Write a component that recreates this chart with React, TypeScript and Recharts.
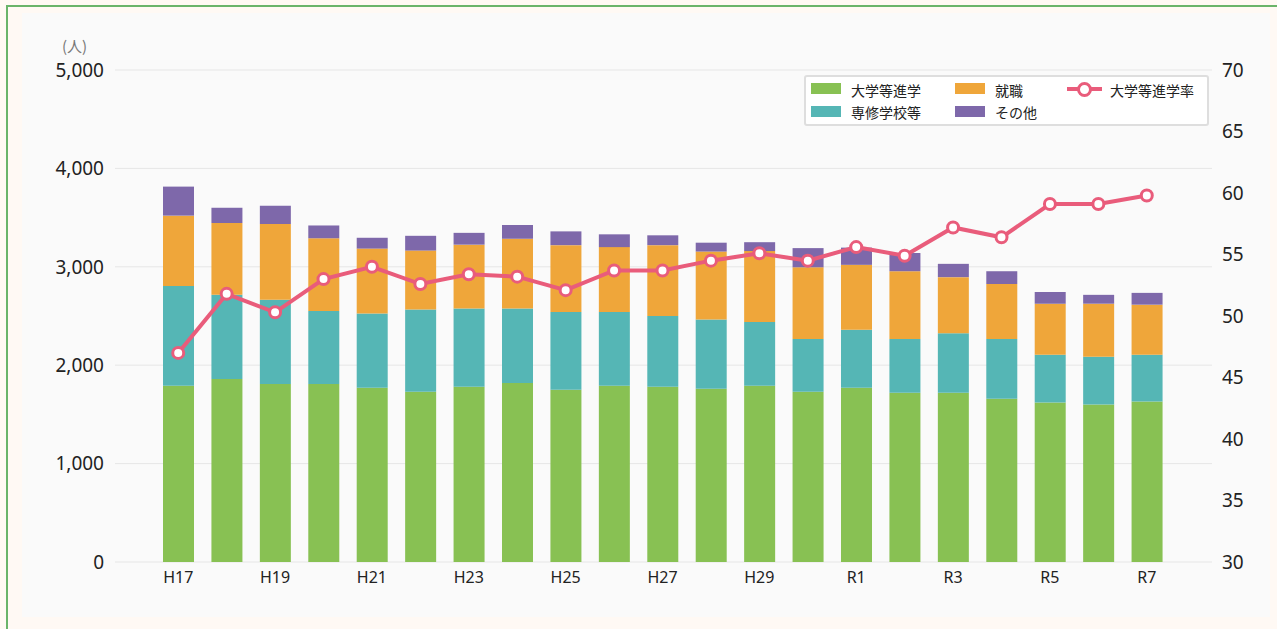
import {
  ComposedChart,
  Bar,
  Line,
  XAxis,
  YAxis,
  CartesianGrid,
} from 'recharts';

const years = [
  'H17', 'H18', 'H19', 'H20', 'H21', 'H22', 'H23', 'H24', 'H25', 'H26', 'H27',
  'H28', 'H29', 'H30', 'R1', 'R2', 'R3', 'R4', 'R5', 'R6', 'R7',
];
const daigaku = [1790, 1860, 1810, 1810, 1770, 1730, 1780, 1820, 1750, 1790, 1780, 1760, 1790, 1730, 1770, 1720, 1720, 1660, 1620, 1600, 1630];
const senshu = [1015, 855, 855, 740, 755, 835, 795, 755, 790, 750, 720, 705, 650, 535, 590, 545, 605, 605, 485, 485, 475];
const shushoku = [715, 730, 770, 740, 660, 600, 650, 710, 680, 660, 720, 690, 720, 730, 660, 690, 570, 560, 520, 540, 510];
const sonota = [295, 155, 185, 130, 110, 150, 120, 140, 140, 130, 100, 90, 90, 195, 175, 185, 135, 130, 120, 90, 120];
const rate = [47.0, 51.8, 50.3, 53.0, 54.0, 52.6, 53.4, 53.2, 52.1, 53.7, 53.7, 54.5, 55.1, 54.5, 55.6, 54.9, 57.2, 56.4, 59.1, 59.1, 59.8];

const leftTicks = [0, 1000, 2000, 3000, 4000, 5000];
const rightTicks = [30, 35, 40, 45, 50, 55, 60, 65, 70];

const colors = {
  daigaku: '#88c153',
  senshu: '#55b6b5',
  shushoku: '#efa63a',
  sonota: '#7e68aa',
  rate: '#e95c7b',
};

const data = years.map((y, i) => ({
  year: y,
  daigaku: daigaku[i],
  senshu: senshu[i],
  shushoku: shushoku[i],
  sonota: sonota[i],
  rate: rate[i],
}));

const font = '"Noto Sans", "Noto Sans CJK JP", sans-serif';

function Swatch({ color, left, top }: { color: string; left: number; top: number }) {
  return (
    <div style={{ position: 'absolute', left, top, width: 30, height: 11, background: color }} />
  );
}

function Label({ text, left, top }: { text: string; left: number; top: number }) {
  return (
    <div style={{ position: 'absolute', left, top, fontSize: 14, lineHeight: '16px', color: '#222', whiteSpace: 'nowrap' }}>
      {text}
    </div>
  );
}

// legend drawn as an overlay so it doesn't push the plot down
function ChartLegend() {
  return (
    <div
      style={{
        position: 'absolute',
        left: 782,
        top: 62,
        width: 401,
        height: 47,
        background: '#fff',
        border: '2px solid #dedede',
        borderRadius: 3,
        fontFamily: '"Noto Sans CJK JP", sans-serif',
      }}
    >
      <Swatch color={colors.daigaku} left={5} top={6} />
      <Label text="大学等進学" left={45} top={5} />
      <Swatch color={colors.shushoku} left={149} top={6} />
      <Label text="就職" left={189} top={5} />
      <div style={{ position: 'absolute', left: 261, top: 10, width: 35, height: 4, background: colors.rate }} />
      <div
        style={{
          position: 'absolute', left: 271, top: 5, width: 9, height: 9,
          borderRadius: '50%', background: '#fff', border: `3px solid ${colors.rate}`,
        }}
      />
      <Label text="大学等進学率" left={304} top={5} />
      <Swatch color={colors.senshu} left={5} top={29} />
      <Label text="専修学校等" left={45} top={27} />
      <Swatch color={colors.sonota} left={149} top={29} />
      <Label text="その他" left={189} top={27} />
    </div>
  );
}

export default function App() {
  return (
    <div style={{ position: 'fixed', left: 0, top: 0, width: 1277, height: 629, background: '#fff9f4', overflow: 'hidden' }}>
      <div
        style={{
          position: 'absolute', left: 6, top: 5, width: 1300, height: 700,
          borderTop: '2px solid #6ab46a', borderLeft: '2px solid #6ab46a',
        }}
      />
      <div style={{ position: 'absolute', left: 22, top: 13, width: 1248, height: 604, background: '#fafafa' }}>
        <div style={{ position: 'absolute', left: 40, top: 22, fontSize: 15, color: '#777', fontFamily: '"Noto Sans CJK JP", sans-serif' }}>
          (人)
        </div>
        <ComposedChart
          width={1248}
          height={604}
          data={data}
          margin={{ top: 57, right: 18, bottom: 25, left: 23 }}
          style={{ fontFamily: font }}
        >
          <CartesianGrid yAxisId="left" vertical={false} stroke="#e6e6e6" strokeWidth={1} />
          <XAxis
            dataKey="year"
            interval={1}
            padding={{ left: 39, right: 41 }}
            axisLine={false}
            tickLine={false}
            tickSize={0}
            tickMargin={10}
            height={30}
            tick={{ fontSize: 16, fill: '#222' }}
          />
          <YAxis
            yAxisId="left"
            domain={[0, 5000]}
            ticks={leftTicks}
            tickFormatter={(v: number) => v.toLocaleString('en-US')}
            axisLine={false}
            tickLine={false}
            tickSize={0}
            tickMargin={11}
            width={70}
            tick={{ fontSize: 19, fill: '#222' }}
          />
          <YAxis
            yAxisId="right"
            orientation="right"
            domain={[30, 70]}
            ticks={rightTicks}
            axisLine={false}
            tickLine={false}
            tickSize={0}
            tickMargin={10}
            width={40}
            tick={{ fontSize: 19, fill: '#222', textAnchor: 'start' }}
          />
          <Bar yAxisId="left" dataKey="daigaku" name="大学等進学" stackId="a" fill={colors.daigaku} barSize={31} isAnimationActive={false} />
          <Bar yAxisId="left" dataKey="senshu" name="専修学校等" stackId="a" fill={colors.senshu} barSize={31} isAnimationActive={false} />
          <Bar yAxisId="left" dataKey="shushoku" name="就職" stackId="a" fill={colors.shushoku} barSize={31} isAnimationActive={false} />
          <Bar yAxisId="left" dataKey="sonota" name="その他" stackId="a" fill={colors.sonota} barSize={31} isAnimationActive={false} />
          <Line
            yAxisId="right"
            dataKey="rate"
            name="大学等進学率"
            stroke={colors.rate}
            strokeWidth={4}
            dot={{ r: 5.5, fill: '#fff', stroke: colors.rate, strokeWidth: 3 }}
            activeDot={false}
            isAnimationActive={false}
          />
        </ComposedChart>
        <ChartLegend />
      </div>
    </div>
  );
}
